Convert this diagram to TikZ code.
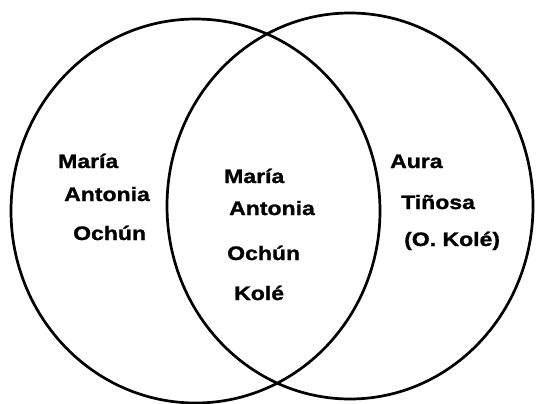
\documentclass[tikz,border=0pt]{standalone}
\usepackage{fontspec}
\setmainfont{Liberation Sans}[FakeStretch=1.18,FakeBold=1.2]
\begin{document}
\begin{tikzpicture}[x=1pt,y=-1pt,
  ring/.style={draw=black,line width=2.7pt},
  lbl/.style={anchor=base west,inner sep=0pt,font=\fontsize{19.5}{20}\selectfont\bfseries}]
\useasboundingbox (0,0) rectangle (538,404);
\fill[white] (0,0) rectangle (538,404);
\coordinate (cl) at (195.5,211);
\coordinate (cr) at (350,206);
\draw[ring] (cl) ellipse [x radius=184.5pt, y radius=192pt];
\draw[ring] (cr) ellipse [x radius=183pt, y radius=193pt];
% left
\node[lbl] (l1) at (58,168) {María};
\node[lbl] (l2) at (64,201) {Antonia};
\node[lbl] (l3) at (73,240) {Ochún};
% middle
\node[lbl] (m1) at (224,183) {María};
\node[lbl] (m2) at (229,215) {Antonia};
\node[lbl] (m3) at (227,260) {Ochún};
\node[lbl] (m4) at (234,300) {Kolé};
% right
\node[lbl] (r1) at (390,168) {Aura};
\node[lbl] (r2) at (401,209) {Tiñosa};
\node[lbl] (r3) at (404,246) {(O. Kolé)};
\end{tikzpicture}
\end{document}
